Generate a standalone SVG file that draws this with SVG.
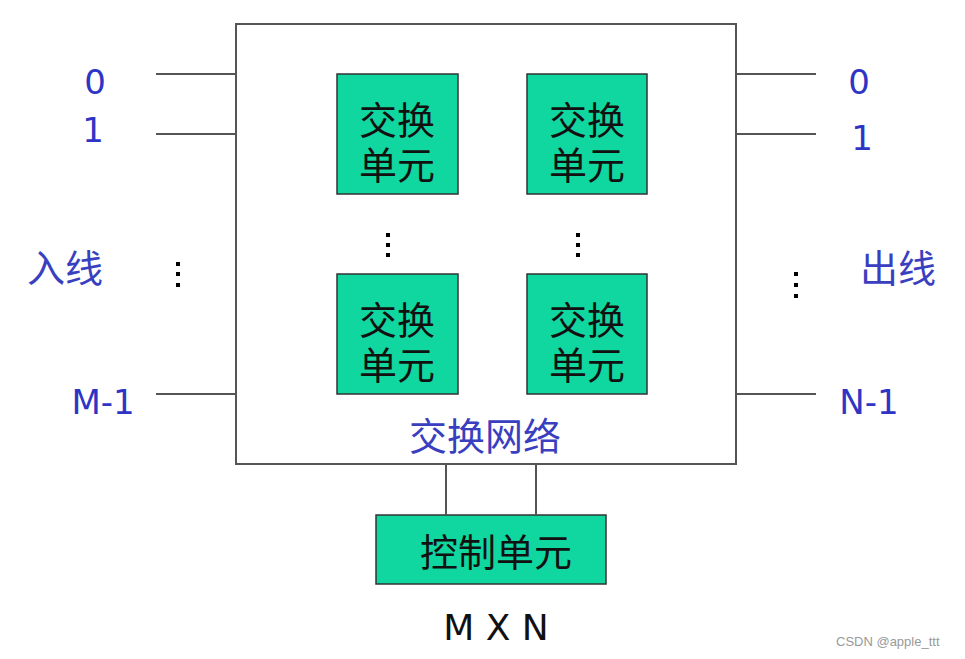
<svg xmlns="http://www.w3.org/2000/svg" width="965" height="659" viewBox="0 0 965 659">
<style>
.ln{stroke:#555;stroke-width:2;fill:none}
.cell{fill:#0fd79f;stroke:#333;stroke-width:1.5}
.cjk{font-family:"DejaVu Sans","Noto Sans CJK SC",sans-serif;font-size:38px;fill:#111}
.blu{font-family:"DejaVu Sans",sans-serif;font-size:34px;fill:#2e35c6}
.bcjk{font-family:"Noto Sans CJK SC",sans-serif;font-size:38px;fill:#3a3fbf}
.dot{fill:#000}
</style>
<rect width="965" height="659" fill="#fff"/>
<g id="network">
<rect x="236" y="24" width="500" height="440" class="ln"/>
<text x="485" y="450" text-anchor="middle" class="bcjk" font-size="39">交换网络</text>
</g>
<g id="cell1"><rect x="337" y="74" width="121" height="120" class="cell"/><text x="397" y="134" text-anchor="middle" class="cjk">交换</text><text x="397" y="179" text-anchor="middle" class="cjk">单元</text></g>
<g id="cell2"><rect x="527" y="74" width="120" height="120" class="cell"/><text x="587" y="134" text-anchor="middle" class="cjk">交换</text><text x="587" y="179" text-anchor="middle" class="cjk">单元</text></g>
<g id="cell3"><rect x="337" y="274" width="121" height="120" class="cell"/><text x="397" y="334" text-anchor="middle" class="cjk">交换</text><text x="397" y="379" text-anchor="middle" class="cjk">单元</text></g>
<g id="cell4"><rect x="527" y="274" width="120" height="120" class="cell"/><text x="587" y="334" text-anchor="middle" class="cjk">交换</text><text x="587" y="379" text-anchor="middle" class="cjk">单元</text></g>
<g id="control"><rect x="376" y="515" width="230" height="69" class="cell"/><text x="496" y="566" text-anchor="middle" class="cjk" font-size="40">控制单元</text></g>
<g id="connectors">
<line x1="156" y1="74" x2="236" y2="74" class="ln"/>
<line x1="156" y1="134" x2="236" y2="134" class="ln"/>
<line x1="156" y1="394" x2="236" y2="394" class="ln"/>
<line x1="736" y1="74" x2="816" y2="74" class="ln"/>
<line x1="736" y1="134" x2="816" y2="134" class="ln"/>
<line x1="736" y1="394" x2="816" y2="394" class="ln"/>
<line x1="446" y1="464" x2="446" y2="515" class="ln"/>
<line x1="536" y1="464" x2="536" y2="515" class="ln"/>
</g>
<g id="labels">
<text x="95" y="94" text-anchor="middle" class="blu">0</text>
<text x="93" y="142" text-anchor="middle" class="blu">1</text>
<text x="103" y="414" text-anchor="middle" class="blu">M-1</text>
<text x="859" y="94" text-anchor="middle" class="blu">0</text>
<text x="862" y="150" text-anchor="middle" class="blu">1</text>
<text x="869" y="414" text-anchor="middle" class="blu">N-1</text>
<text x="27" y="282" class="bcjk">入线</text>
<text x="860" y="282" class="bcjk">出线</text>
<text x="496" y="640" text-anchor="middle" font-family="DejaVu Sans, sans-serif" font-size="36" fill="#111">M X N</text>
<text x="836" y="646" font-family="Liberation Sans, sans-serif" font-size="13" fill="#999">CSDN @apple_ttt</text>
</g>
<g id="dots">
<rect x="176" y="262" width="4" height="4" class="dot"/><rect x="176" y="272" width="4" height="4" class="dot"/><rect x="176" y="283" width="4" height="4" class="dot"/>
<rect x="794" y="272" width="4" height="4" class="dot"/><rect x="794" y="283" width="4" height="4" class="dot"/><rect x="794" y="294" width="4" height="4" class="dot"/>
<rect x="386" y="233" width="4" height="4" class="dot"/><rect x="386" y="243" width="4" height="4" class="dot"/><rect x="386" y="253" width="4" height="4" class="dot"/>
<rect x="576" y="233" width="4" height="4" class="dot"/><rect x="576" y="243" width="4" height="4" class="dot"/><rect x="576" y="253" width="4" height="4" class="dot"/>
</g>
</svg>
